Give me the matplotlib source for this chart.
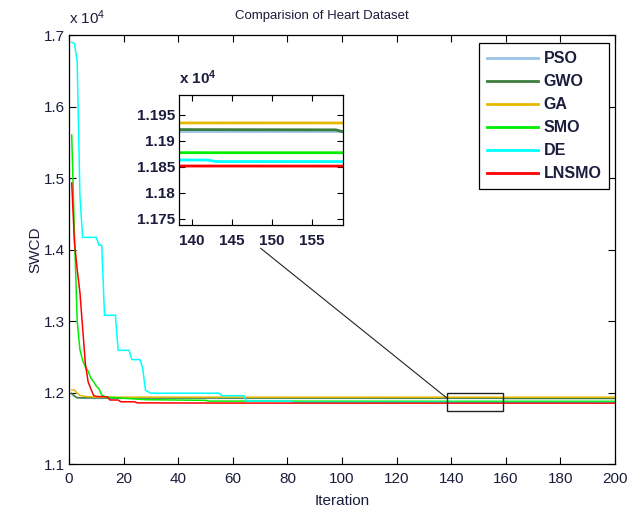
import matplotlib
matplotlib.use('Agg')
import matplotlib.pyplot as plt
from matplotlib.ticker import FuncFormatter
from matplotlib.patches import Rectangle

plt.rcParams['font.family'] = ['Liberation Sans', 'DejaVu Sans']
plt.rcParams['mathtext.fontset'] = 'custom'
plt.rcParams['mathtext.rm'] = 'Liberation Sans'
plt.rcParams['mathtext.bf'] = 'Liberation Sans:bold'

# ---------------- data (iteration, SWCD) ----------------
pso_it = [1, 3, 6, 200]
pso_val = [11970, 11930, 11918, 11918]

gwo_it = [1, 2, 3, 158, 159, 200]
gwo_val = [11990, 11950, 11925, 11921, 11917, 11917]

ga_it = [1, 2, 3, 4, 6, 10, 200]
ga_val = [12035, 12035, 11990, 11960, 11945, 11935, 11934]

smo_it = [1, 2, 3, 4, 5, 6, 7, 8, 9, 10, 11, 12, 13, 14, 20, 28, 50, 51, 143, 200]
smo_val = [15600, 14200, 13000, 12600, 12450, 12360, 12300, 12200, 12150, 12090,
           12050, 11965, 11945, 11935, 11920, 11900, 11890, 11880, 11877, 11877]

de_it = [1, 2, 3, 4, 5, 10, 11, 12, 13, 17, 18, 22, 23, 26, 27, 28, 30, 55, 56,
         64, 65, 81, 82, 142, 143, 200]
de_val = [16900, 16880, 16630, 14750, 14170, 14170, 14060, 14060, 13080, 13080,
          12590, 12590, 12460, 12460, 12340, 12030, 11990, 11990, 11955, 11955,
          11880, 11880, 11863, 11863, 11860, 11860]

lnsmo_it = [1, 2, 3, 4, 5, 6, 7, 8, 9, 10, 14, 15, 18, 19, 24, 25, 60, 200]
lnsmo_val = [14930, 14100, 13720, 13400, 12900, 12400, 12150, 12050, 11960, 11945,
             11940, 11895, 11895, 11870, 11870, 11855, 11852, 11851]

names = ['PSO', 'GWO', 'GA', 'SMO', 'DE', 'LNSMO']
colors = ['#9DC3E6', '#3C7D3C', '#E6B800', '#00EE00', '#00FFFF', '#FF0000']
series = [(pso_it, pso_val), (gwo_it, gwo_val), (ga_it, ga_val),
          (smo_it, smo_val), (de_it, de_val), (lnsmo_it, lnsmo_val)]

x_ticks = list(range(0, 201, 20))
y_ticks = [11000, 12000, 13000, 14000, 15000, 16000, 17000]
zoom_xlim = (138.4, 158.9)
zoom_ylim = (11738, 11988)
zoom_xticks = [140, 145, 150, 155]
zoom_yticks = [11750, 11800, 11850, 11900, 11950]

txt_color = '#1c1c3c'
fmt = FuncFormatter(lambda v, p: '{:g}'.format(round(v / 1e4, 4)))

W, H = 640, 511
fig = plt.figure(figsize=(W / 100, H / 100), dpi=100)
ax = fig.add_axes([69 / W, 1 - 464 / H, 546 / W, 429 / H])

for (it, val), c, n in zip(series, colors, names):
    ax.plot(it, val, color=c, lw=1.1, label=n)

ax.set_xlim(0, 200)
ax.set_ylim(11000, 17000)
ax.set_xticks(x_ticks)
ax.set_yticks(y_ticks)
ax.yaxis.set_major_formatter(fmt)
ax.tick_params(direction='in', top=True, right=True, length=5, width=0.8,
               labelsize=11, labelcolor=txt_color, pad=3)
ax.tick_params(axis='x', pad=6)
for s in ax.spines.values():
    s.set_linewidth(0.9)
ax.set_xlabel('Iteration', fontsize=11, color=txt_color, labelpad=5.5)
ax.set_ylabel('SWCD', fontsize=11, color=txt_color, labelpad=1)

fig.text(235 / W, 1 - 16 / H, 'Comparision of Heart Dataset',
         ha='left', va='center', fontsize=9.5, color=txt_color)
fig.text(69 / W, 1 - 18 / H, r'x $\mathregular{10^4}$', ha='left', va='center',
         fontsize=11, color=txt_color)

# zoom rectangle + connector
ax.add_patch(Rectangle((zoom_xlim[0], zoom_ylim[0]), zoom_xlim[1] - zoom_xlim[0],
                       zoom_ylim[1] - zoom_ylim[0], fill=False, ec='#222222', lw=1.0,
                       zorder=5))
ax.plot([70.2, zoom_xlim[0]], [14017, 11923], color='#222222', lw=0.8, zorder=5)

leg = ax.legend(loc='upper right', bbox_to_anchor=(609.3 / W, 1 - 43.3 / H),
                bbox_transform=fig.transFigure, prop={'weight': 'bold', 'size': 11.5},
                handlelength=3.2, handletextpad=0.35, labelspacing=0.5,
                borderpad=0.5, fancybox=False, edgecolor='black', framealpha=1,
                borderaxespad=0)
leg.get_frame().set_linewidth(0.9)
for line in leg.get_lines():
    line.set_linewidth(2.0)
for t in leg.get_texts():
    t.set_color(txt_color)

# inset
axin = fig.add_axes([179 / W, 1 - 225 / H, 164 / W, 130 / H])
for (it, val), c in zip(series, colors):
    axin.plot(it, val, color=c, lw=2.0)
axin.set_xlim(*zoom_xlim)
axin.set_ylim(*zoom_ylim)
axin.set_xticks(zoom_xticks)
axin.set_yticks(zoom_yticks)
axin.yaxis.set_major_formatter(fmt)
axin.tick_params(direction='in', top=True, right=True, length=4, width=0.8,
                 labelsize=11, labelcolor=txt_color, pad=3)
axin.tick_params(axis='x', pad=6.5)
for lab in axin.get_xticklabels() + axin.get_yticklabels():
    lab.set_fontweight('bold')
for s in axin.spines.values():
    s.set_linewidth(0.9)
fig.text(179 / W, 1 - 78 / H, r'x $\mathregular{10^4}$', ha='left', va='center',
         fontsize=11, fontweight='bold', color=txt_color)

fig.savefig('out.png', dpi=100)
